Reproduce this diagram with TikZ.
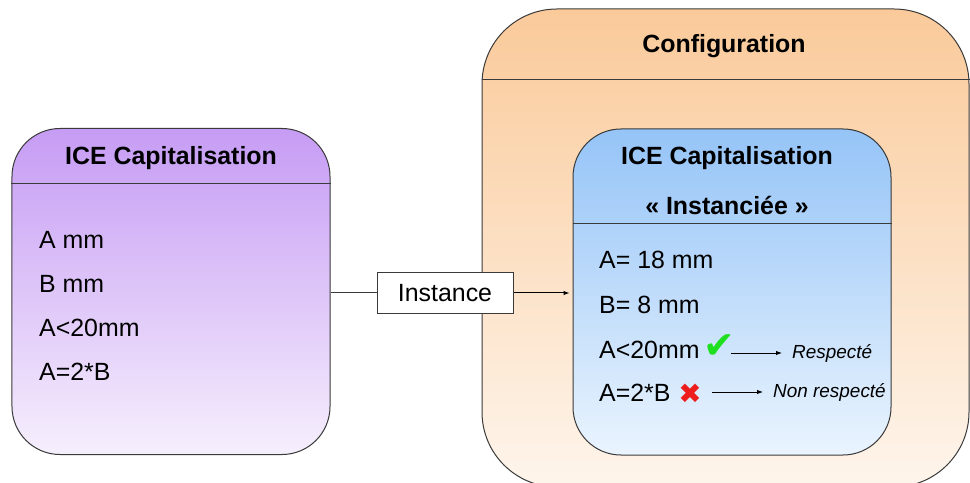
\documentclass[tikz,border=0pt]{standalone}
\usepackage{fontspec}
\setmainfont{Liberation Sans}
\newfontfamily\symbfont{DejaVu Sans}
\usetikzlibrary{arrows.meta}
\definecolor{lilac}{HTML}{C69CF4}
\definecolor{lilaclt}{HTML}{F6EFFD}
\definecolor{peach}{HTML}{FACA9A}
\definecolor{peachlt}{HTML}{FEF5EC}
\definecolor{sky}{HTML}{95C4F7}
\definecolor{skylt}{HTML}{EAF4FE}
\definecolor{edge}{HTML}{3A3A3A}
\definecolor{okgreen}{HTML}{1FE01F}
\definecolor{nored}{HTML}{EE1D1D}
\newcommand{\bigtxt}{\fontsize{25}{30}\selectfont}
\newcommand{\smalltxt}{\fontsize{19}{23}\selectfont}
\tikzset{
  panel/.style={draw=edge, line width=1bp, rounded corners=48bp,
                minimum width=318bp, minimum height=326bp},
  lilacpanel/.style={panel, top color=lilac, bottom color=lilaclt},
  skypanel/.style={panel, top color=sky, bottom color=skylt},
  peachpanel/.style={panel, top color=peach, bottom color=peachlt,
                     rounded corners=75bp, minimum width=487bp, minimum height=478bp},
  rule/.style={draw=edge, line width=1bp},
  title/.style={font=\bfseries\bigtxt, inner sep=1bp},
  attr/.style={font=\bigtxt, anchor=west, inner sep=1bp},
  note/.style={font=\itshape\smalltxt, anchor=west, inner sep=1bp},
  tagbox/.style={draw=edge, fill=white, line width=1bp, font=\bigtxt,
                 minimum width=136bp, minimum height=41bp, inner sep=1bp},
  okmark/.style={font=\symbfont\fontsize{38}{38}\selectfont, text=okgreen, inner sep=0bp},
  nomark/.style={font=\symbfont\fontsize{28}{28}\selectfont, text=nored, inner sep=0bp},
  ar/.style={-{Latex[length=6bp,width=4.5bp]}, line width=1bp},
  arsm/.style={-{Latex[length=6bp,width=4.5bp]}, line width=0.9bp, shorten >=9bp}
}
\begin{document}
\begin{tikzpicture}[x=1bp,y=-1bp]
  \clip (0,0) rectangle (970,483);
  \fill[white] (0,0) rectangle (970,483);

  \node[lilacpanel] (capi) at (171,291.5) {};
  \draw[rule] (capi.west |- 0,184) -- (capi.east |- 0,184);
  \node[title] (capiT) at (171,158) {ICE Capitalisation};
  \node[attr] (capiA) at (38,240) {A mm};
  \node[attr] (capiB) at (38,284) {B mm};
  \node[attr] (capiC) at (38,328) {A<20mm};
  \node[attr] (capiD) at (38,372) {A=2*B};

  \node[peachpanel] (cfg) at (725.5,248) {};
  \draw[rule] (cfg.west |- 0,80) -- (cfg.east |- 0,80);
  \node[title] (cfgT) at (724,46) {Configuration};

  \node[skypanel] (inst) at (732,292) {};
  \draw[rule] (inst.west |- 0,224) -- (inst.east |- 0,224);
  \node[title] (instT) at (727,158) {ICE Capitalisation};
  \node[title] (instS) at (727,205) {« Instanciée »};
  \node[attr] (instA) at (598,260) {A= 18 mm};
  \node[attr] (instB) at (598,305) {B= 8 mm};
  \node[attr] (instC) at (598,350) {A<20mm};
  \node[attr] (instD) at (598,393) {A=2*B};

  \node[okmark] (ok) at (719,347) {✔};
  \node[note] (okN) at (791,353) {Respecté};
  \draw[arsm] ([xshift=-4bp]ok.east |- okN.west) -- (okN.west);
  \node[nomark] (no) at (690,394) {✖};
  \node[note] (noN) at (772,392) {Non respecté};
  \draw[arsm] ([xshift=10bp]no.east |- noN.west) -- (noN.west);

  \node[tagbox] (tag) at (445,293) {Instance};
  \draw[rule] (capi.east |- tag.west) -- (tag.west);
  \draw[ar] (tag.east) -- ([xshift=-3bp]inst.west |- tag.east);
\end{tikzpicture}
\end{document}
